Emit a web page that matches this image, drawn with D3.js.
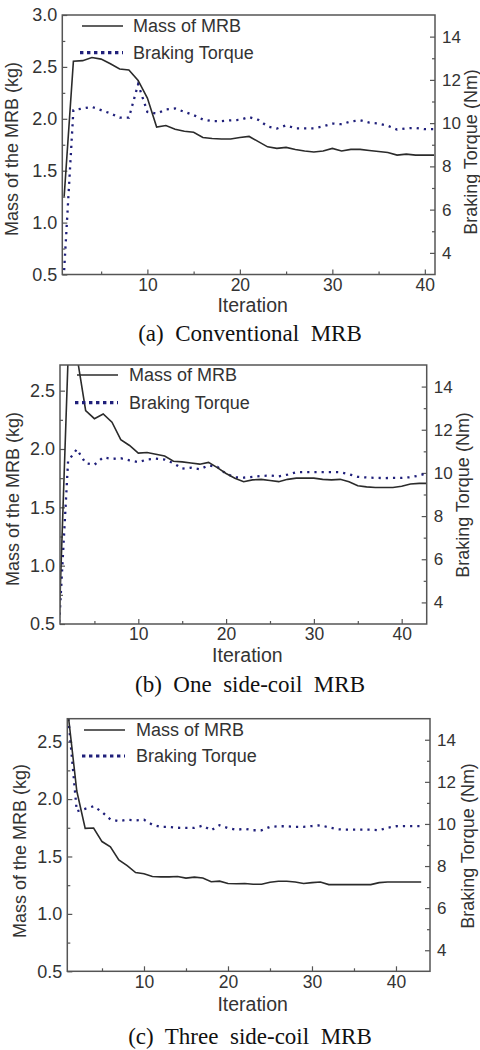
<!DOCTYPE html>
<html>
<head>
<meta charset="utf-8">
<script src="https://cdn.jsdelivr.net/npm/d3@7"></script>
<style>
  body { margin: 0; background: #fff; }
  svg text { font-family: "Liberation Sans", Arial, sans-serif; fill: #333; }
  svg text.caption { font-family: "Liberation Serif", "Times New Roman", serif; fill: #111; }
</style>
</head>
<body>
<div id="chart"></div>
<script>
// ---- data ----
const iterA = [1,2,3,4,5,6,7,8,9,10,11,12,13,14,15,16,17,18,19,20,
               21,22,23,24,25,26,27,28,29,30,31,32,33,34,35,36,37,38,39,40,41];
const massA = [1.25,2.555,2.56,2.59,2.575,2.53,2.48,2.47,2.37,2.2,
               1.92,1.935,1.9,1.88,1.87,1.82,1.81,1.805,1.805,1.82,
               1.83,1.78,1.73,1.715,1.725,1.705,1.69,1.68,1.69,1.715,
               1.69,1.705,1.705,1.695,1.685,1.675,1.65,1.66,1.65,1.65,1.65];
const torqueA = [3.2,10.6,10.68,10.75,10.6,10.45,10.25,10.25,11.8,10.52,
                 10.44,10.63,10.68,10.52,10.37,10.17,10.09,10.09,10.13,10.15,
                 10.28,10.15,9.85,9.75,9.9,9.76,9.76,9.76,9.85,9.98,
                 9.95,10.08,10.13,10.02,9.98,9.88,9.7,9.76,9.78,9.72,9.72];

const iterB = [1,2,3,4,5,6,7,8,9,10,11,12,13,14,15,16,17,18,19,20,
               21,22,23,24,25,26,27,28,29,30,31,32,33,34,35,36,37,38,39,40,41,42,43];
const massB = [0.55,2.78,2.8,2.33,2.26,2.3,2.23,2.08,2.03,1.965,
               1.97,1.955,1.94,1.895,1.89,1.88,1.87,1.885,1.84,1.79,
               1.75,1.72,1.735,1.74,1.73,1.72,1.74,1.75,1.75,1.75,
               1.74,1.735,1.74,1.72,1.685,1.675,1.67,1.67,1.67,1.68,
               1.7,1.705,1.705];
const torqueB = [3.1,10.55,11.1,10.45,10.38,10.72,10.65,10.68,10.58,10.5,
                 10.62,10.66,10.62,10.45,10.2,10.24,10.17,10.35,10.28,9.96,
                 9.8,9.78,9.82,9.86,9.88,9.84,9.92,10.03,10.04,10.04,
                 10.04,10.04,10.03,9.94,9.82,9.79,9.77,9.76,9.77,9.77,
                 9.8,9.88,10.0];

const iterC = [1,2,3,4,5,6,7,8,9,10,11,12,13,14,15,16,17,18,19,20,
               21,22,23,24,25,26,27,28,29,30,31,32,33,34,35,36,37,38,39,40,41,42,43];
const massC = [2.72,2.07,1.745,1.748,1.63,1.585,1.47,1.42,1.36,1.35,
               1.325,1.322,1.322,1.325,1.312,1.32,1.313,1.28,1.285,1.265,
               1.262,1.265,1.258,1.258,1.275,1.284,1.284,1.278,1.265,1.272,
               1.278,1.255,1.255,1.255,1.255,1.255,1.255,1.272,1.278,1.278,
               1.278,1.278,1.278];
const torqueC = [15.0,10.6,10.72,10.84,10.57,10.22,10.13,10.2,10.17,10.2,
                 9.96,9.86,9.86,9.82,9.81,9.81,9.92,9.7,9.94,9.8,
                 9.72,9.77,9.7,9.7,9.86,9.89,9.89,9.86,9.86,9.9,
                 9.94,9.84,9.75,9.73,9.73,9.73,9.73,9.7,9.82,9.89,
                 9.9,9.9,9.9];

const massTicksA = [0.5, 1.0, 1.5, 2.0, 2.5, 3.0];
const massTicks = [0.5, 1.0, 1.5, 2.0, 2.5];
const torqueTicks = [4, 6, 8, 10, 12, 14];
const iterTicks = [10, 20, 30, 40];
const legendLabels = ["Mass of MRB", "Braking Torque"];
const captions = ["(a)  Conventional  MRB", "(b)  One  side-coil  MRB", "(c)  Three  side-coil  MRB"];

// layout of each panel (pixel frame + axis ranges)
const panels = [
  { iter: iterA, mass: massA, torque: torqueA, massTicks: massTicksA, caption: captions[0],
    left: 62.3, right: 435, top: 15, bottom: 274.5,
    xDomain: [0.8, 41.1], massDomain: [0.5, 3.0],
    legendX: 82, legendTextX: 133, legendY: [26, 52.7],
    yTitleX: 12, yTitleY: 149, rTitleX: 471, rTitleY: 152,
    iterY: 312, captionY: 341 },
  { iter: iterB, mass: massB, torque: torqueB, massTicks: massTicks, caption: captions[1],
    left: 60, right: 426.7, top: 365, bottom: 624,
    xDomain: [1.08, 42.85], massDomain: [0.5, 2.72],
    legendX: 77, legendTextX: 129, legendY: [375, 402.7],
    yTitleX: 13, yTitleY: 499, rTitleX: 463, rTitleY: 495,
    iterY: 662, captionY: 692 },
  { iter: iterC, mass: massC, torque: torqueC, massTicks: massTicks, caption: captions[2],
    left: 67.3, right: 430, top: 718.7, bottom: 971.3,
    xDomain: [0.87, 44.05], massDomain: [0.5, 2.7],
    legendX: 84, legendTextX: 136, legendY: [730, 756],
    yTitleX: 20, yTitleY: 851, rTitleX: 468, rTitleY: 846,
    iterY: 1011, captionY: 1044 }
];

const massColor = "#2b2b2b";
const torqueColor = "#1f1f7a";

const svg = d3.select("#chart").append("svg")
    .attr("width", 480)
    .attr("height", 1050);

panels.forEach((p, i) => drawPanel(p, i));

function drawPanel(p, idx) {
    const x = d3.scaleLinear().domain(p.xDomain).range([p.left, p.right]);
    const yL = d3.scaleLinear().domain(p.massDomain).range([p.bottom, p.top]);
    const yR = d3.scaleLinear().domain([3, 15]).range([p.bottom, p.top]);

    const g = svg.append("g");

    g.append("clipPath").attr("id", "clip" + idx)
        .append("rect")
        .attr("x", p.left).attr("y", p.top)
        .attr("width", p.right - p.left).attr("height", p.bottom - p.top);

    // minor ticks (inward)
    g.append("g").attr("transform", `translate(${p.left},0)`)
        .call(d3.axisLeft(yL).tickValues(d3.range(0.75, p.massDomain[1], 0.5)).tickSize(-3).tickFormat(""));
    g.append("g").attr("transform", `translate(${p.right},0)`)
        .call(d3.axisRight(yR).tickValues([5, 7, 9, 11, 13]).tickSize(-3).tickFormat(""));
    g.append("g").attr("transform", `translate(0,${p.bottom})`)
        .call(d3.axisBottom(x).tickValues([5, 15, 25, 35]).tickSize(-3).tickFormat(""));

    // major axes
    const yAxisL = g.append("g").attr("transform", `translate(${p.left},0)`)
        .call(d3.axisLeft(yL).tickValues(p.massTicks).tickSize(-5).tickPadding(5).tickFormat(d3.format(".1f")));
    yAxisL.selectAll("text").attr("font-size", "18px");

    const yAxisR = g.append("g").attr("transform", `translate(${p.right},0)`)
        .call(d3.axisRight(yR).tickValues(torqueTicks).tickSize(-5).tickPadding(7));
    yAxisR.selectAll("text").attr("font-size", "17px");

    const xAxis = g.append("g").attr("transform", `translate(0,${p.bottom})`)
        .call(d3.axisBottom(x).tickValues(iterTicks).tickSize(-5).tickPadding(4));
    xAxis.selectAll("text").attr("font-size", "17.5px");

    g.selectAll(".domain").remove();
    g.selectAll(".tick line").attr("stroke", "#555").attr("stroke-width", 1.2);
    g.selectAll(".tick text").attr("fill", "#333");

    // lines
    const plot = g.append("g").attr("clip-path", `url(#clip${idx})`);
    const massLine = d3.line().x((d, i) => x(p.iter[i])).y(d => yL(d));
    const torqueLine = d3.line().x((d, i) => x(p.iter[i])).y(d => yR(d));

    plot.append("path").datum(p.torque)
        .attr("d", torqueLine)
        .attr("fill", "none")
        .attr("stroke", torqueColor)
        .attr("stroke-width", 2.3)
        .attr("stroke-dasharray", "2.2,5");

    plot.append("path").datum(p.mass)
        .attr("d", massLine)
        .attr("fill", "none")
        .attr("stroke", massColor)
        .attr("stroke-width", 1.6);

    // frame
    g.append("rect")
        .attr("x", p.left).attr("y", p.top)
        .attr("width", p.right - p.left).attr("height", p.bottom - p.top)
        .attr("fill", "none").attr("stroke", "#555").attr("stroke-width", 1.5);

    // legend
    g.append("line")
        .attr("x1", p.legendX).attr("x2", p.legendX + 41)
        .attr("y1", p.legendY[0]).attr("y2", p.legendY[0])
        .attr("stroke", massColor).attr("stroke-width", 1.6);
    g.append("line")
        .attr("x1", p.legendX - 2).attr("x2", p.legendX + 41)
        .attr("y1", p.legendY[1]).attr("y2", p.legendY[1])
        .attr("stroke", torqueColor).attr("stroke-width", 3.2)
        .attr("stroke-dasharray", "3.4,3.6");
    legendLabels.forEach((t, i) => {
        g.append("text")
            .attr("x", p.legendTextX).attr("y", p.legendY[i])
            .attr("dy", "0.35em")
            .attr("font-size", "18px")
            .text(t);
    });

    // axis titles
    g.append("text")
        .attr("transform", `translate(${p.yTitleX},${p.yTitleY}) rotate(-90)`)
        .attr("text-anchor", "middle").attr("dy", "0.35em")
        .attr("font-size", "18px")
        .text("Mass of the MRB (kg)");
    g.append("text")
        .attr("transform", `translate(${p.rTitleX},${p.rTitleY}) rotate(-90)`)
        .attr("text-anchor", "middle").attr("dy", "0.35em")
        .attr("font-size", "18px")
        .text("Braking Torque (Nm)");
    g.append("text")
        .attr("x", (p.left + p.right) / 2 + 4).attr("y", p.iterY)
        .attr("text-anchor", "middle")
        .attr("font-size", "19.5px")
        .text("Iteration");

    // caption
    g.append("text")
        .attr("class", "caption")
        .attr("x", 250).attr("y", p.captionY)
        .attr("text-anchor", "middle")
        .attr("font-size", "23px")
        .style("white-space", "pre")
        .text(p.caption);
}
</script>
</body>
</html>
